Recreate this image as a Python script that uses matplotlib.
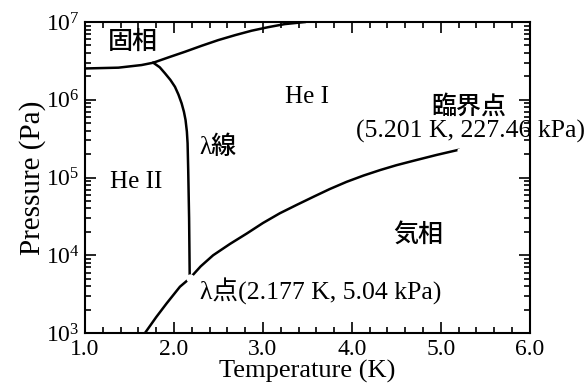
import numpy as np
import matplotlib
matplotlib.use("Agg")
import matplotlib.pyplot as plt
from matplotlib.ticker import MultipleLocator, LogLocator

plt.rcParams['font.family'] = ['Liberation Serif', 'Noto Sans CJK JP']
plt.rcParams['mathtext.fontset'] = 'stix'

# melting curve (solid / liquid boundary)
melt_T = [1.0, 1.375, 1.636, 1.767, 1.95, 2.124, 2.31, 2.498, 2.69, 2.873, 3.06, 3.247, 3.47]
melt_P = [2.53e6, 2.59e6, 2.8e6, 3.0e6, 3.55e6, 4.15e6, 4.95e6, 5.86e6, 6.8e6, 7.74e6,
          8.6e6, 9.42e6, 1.0e7]

# lambda line (He I / He II boundary)
lam_T = [1.767, 1.84, 1.899, 1.96, 2.011, 2.05, 2.086, 2.112, 2.13, 2.145, 2.153, 2.16, 2.17, 2.177]
lam_P = [3.0e6, 2.62e6, 2.19e6, 1.8e6, 1.47e6, 1.17e6, 9.0e5, 7.0e5, 5.5e5, 3.9e5, 2.76e5,
         1.25e5, 3.0e4, 5.04e3]

# vapour pressure curve
vap_T = [1.674, 1.8, 1.918, 2.067, 2.177, 2.3, 2.44, 2.63, 2.82, 3.0, 3.19, 3.38, 3.57,
         3.75, 3.94, 4.13, 4.32, 4.5, 4.69, 4.95, 5.201]
vap_P = [1.0e3, 1.6e3, 2.41e3, 3.94e3, 5.04e3, 7.2e3, 1.0e4, 1.4e4, 1.91e4, 2.6e4, 3.47e4,
         4.45e4, 5.67e4, 7.1e4, 8.8e4, 1.06e5, 1.25e5, 1.44e5, 1.64e5, 1.95e5, 2.2746e5]

lambda_pt = (2.177, 5.04e3)
critical_pt = (5.201, 2.2746e5)

fig = plt.figure(figsize=(5.88, 3.87), dpi=100)
ax = fig.add_axes([0.1446, 0.1395, 0.7564, 0.8035])

lw = 1.8
ax.plot(melt_T, melt_P, color='black', lw=lw)
ax.plot(lam_T, lam_P, color='black', lw=lw)
ax.plot(vap_T, vap_P, color='black', lw=lw)
ax.plot(*lambda_pt, 'o', ms=6, mfc='white', mec='none', zorder=5)
ax.plot(*critical_pt, 'o', ms=3, mfc='white', mec='none', zorder=5)

ax.set_yscale('log')
ax.set_xlim(1.0, 6.0)
ax.set_ylim(1e3, 1e7)
ax.xaxis.set_major_locator(MultipleLocator(1.0))
ax.xaxis.set_minor_locator(MultipleLocator(0.2))
ax.xaxis.set_major_formatter(plt.FormatStrFormatter('%.1f'))
ax.yaxis.set_major_locator(LogLocator(base=10, numticks=10))
ax.yaxis.set_minor_locator(LogLocator(base=10, subs=np.arange(2, 10), numticks=10))

ax.tick_params(which='both', direction='in', top=True, right=True, width=1.2)
ax.tick_params(which='major', length=8, labelsize=17, pad=4)
ax.tick_params(which='minor', length=4)
for s in ax.spines.values():
    s.set_linewidth(1.5)

ax.set_xlabel('Temperature (K)', fontsize=19, labelpad=0)
ax.set_ylabel('Pressure (Pa)', fontsize=21, labelpad=0)

cjk = 'Noto Sans CJK JP'
ax.text(1.54, 5.5e6, '固相', family=cjk, fontsize=18, weight='medium', ha='center', va='center')
ax.text(3.25, 1.08e6, 'He I', fontsize=18, ha='left', va='center')
ax.text(5.74, 8.1e5, '臨界点', family=cjk, fontsize=18, weight='medium', ha='right', va='center')
ax.text(4.045, 3.96e5, '(5.201 K, 227.46 kPa)', fontsize=18.5, ha='left', va='center')
ax.text(2.29, 2.47e5, 'λ線', fontsize=18, weight='medium', ha='left', va='center')
ax.text(1.28, 8.7e4, 'He II', fontsize=18, ha='left', va='center')
ax.text(4.46, 1.82e4, '気相', family=cjk, fontsize=18, weight='medium', ha='left', va='center')
ax.text(2.29, 3.47e3, 'λ点(2.177 K, 5.04 kPa)', fontsize=18.5, ha='left', va='center')

fig.savefig('out.png', dpi=100)
